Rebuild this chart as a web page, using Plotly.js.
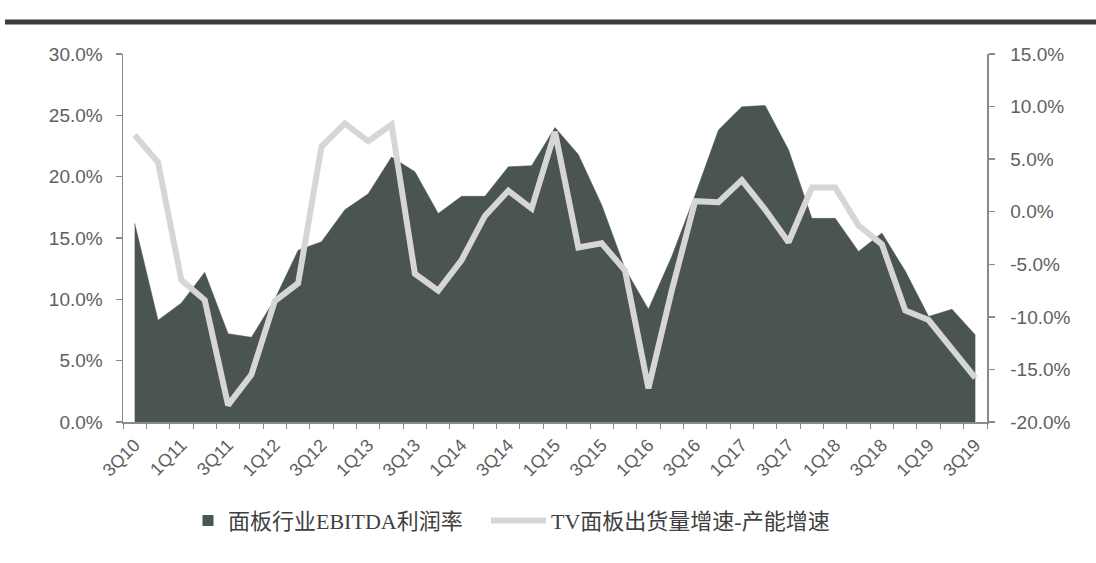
<!DOCTYPE html>
<html>
<head>
<meta charset="utf-8">
<script src="https://cdn.plot.ly/plotly-3.0.1.min.js"></script>
<style>
  html, body { margin: 0; padding: 0; background: #ffffff; }
  #chart { width: 1096px; height: 563px; }
</style>
</head>
<body>
<div id="chart"></div>
<script>
// Quarters 3Q10 .. 3Q19
const quarters = [
  '3Q10','4Q10','1Q11','2Q11','3Q11','4Q11','1Q12','2Q12','3Q12','4Q12',
  '1Q13','2Q13','3Q13','4Q13','1Q14','2Q14','3Q14','4Q14','1Q15','2Q15',
  '3Q15','4Q15','1Q16','2Q16','3Q16','4Q16','1Q17','2Q17','3Q17','4Q17',
  '1Q18','2Q18','3Q18','4Q18','1Q19','2Q19','3Q19'
];
// 面板行业EBITDA利润率 (%), left axis
const ebitdaMargin = [
  16.2, 8.3, 9.7, 12.2, 7.2, 6.9, 10.0, 14.0, 14.7, 17.3,
  18.6, 21.6, 20.4, 17.0, 18.4, 18.4, 20.8, 20.9, 24.0, 21.8,
  17.7, 12.5, 9.2, 13.5, 18.5, 23.8, 25.7, 25.8, 22.2, 16.6,
  16.6, 13.9, 15.4, 12.3, 8.6, 9.2, 7.1
];
// TV面板出货量增速-产能增速 (%), right axis
const tvGap = [
  7.3, 4.7, -6.5, -8.4, -18.4, -15.5, -8.5, -6.8, 6.2, 8.4,
  6.7, 8.3, -5.9, -7.5, -4.6, -0.4, 2.0, 0.3, 7.6, -3.4,
  -3.0, -5.6, -16.8, -7.5, 1.0, 0.9, 3.0, 0.2, -2.9, 2.3,
  2.3, -1.3, -3.1, -9.4, -10.3, -13.0, -15.8
];
// Tick labels
const tickLabels = quarters.filter((q, i) => i % 2 === 0);
const tickPositions = quarters.map((q, i) => i).filter(i => i % 2 === 0);
const xIdx = quarters.map((q, i) => i);
const leftTickVals = [0, 5, 10, 15, 20, 25, 30];
const leftTickText = ['0.0%', '5.0%', '10.0%', '15.0%', '20.0%', '25.0%', '30.0%'];
const rightTickVals = [-20, -15, -10, -5, 0, 5, 10, 15];
const rightTickText = ['-20.0%', '-15.0%', '-10.0%', '-5.0%', '0.0%', '5.0%', '10.0%', '15.0%'];

const seriesNames = ['面板行业EBITDA利润率', 'TV面板出货量增速-产能增速'];

const areaColor = '#4a5451';
const lineColor = '#d6d6d6';
const axisColor = '#8a8a8a';
const tickFontColor = '#606060';

const traces = [
  {
    x: xIdx, y: ebitdaMargin, type: 'scatter', mode: 'lines',
    fill: 'tozeroy', fillcolor: areaColor,
    line: { width: 0.5, color: areaColor },
    yaxis: 'y', showlegend: false, hoverinfo: 'skip'
  },
  {
    x: [null], y: [null], type: 'scatter', mode: 'markers',
    name: seriesNames[0],
    marker: { symbol: 'square', size: 11, color: areaColor },
    yaxis: 'y', showlegend: true, legend: 'legend'
  },
  {
    x: xIdx, y: tvGap, type: 'scatter', mode: 'lines',
    name: seriesNames[1],
    line: { width: 6, color: lineColor },
    yaxis: 'y2', showlegend: true, legend: 'legend2'
  }
];

const tickFont = { family: 'Liberation Sans, Arial, sans-serif', size: 19, color: tickFontColor };
const legendFont = { family: 'Liberation Serif, "Noto Sans CJK SC", serif', size: 22, color: '#404040' };

const layout = {
  width: 1096, height: 563,
  margin: { l: 123, r: 109, t: 54, b: 141 },
  paper_bgcolor: '#ffffff', plot_bgcolor: '#ffffff',
  showlegend: true,
  xaxis: {
    type: 'linear', range: [-0.5, 36.5],
    tickmode: 'array', tickvals: tickPositions, ticktext: tickLabels,
    tickangle: -45, ticks: '', ticklabelstandoff: 4,
    tickfont: { family: 'Liberation Sans, Arial, sans-serif', size: 18, color: tickFontColor },
    showline: true, linecolor: axisColor, linewidth: 1.5,
    showgrid: false, zeroline: false, fixedrange: true,
    minor: { tickmode: 'linear', tick0: 0.5, dtick: 1, ticks: 'outside', ticklen: 5, tickcolor: axisColor, tickwidth: 1, showgrid: false }
  },
  yaxis: {
    range: [0, 30], tickmode: 'array', tickvals: leftTickVals, ticktext: leftTickText,
    ticks: 'outside', ticklen: 6, tickcolor: axisColor, tickwidth: 1.5, ticklabelstandoff: 9,
    showline: true, linecolor: axisColor, linewidth: 1.5,
    showgrid: false, zeroline: false, tickfont: tickFont, fixedrange: true
  },
  yaxis2: {
    overlaying: 'y', side: 'right',
    range: [-20, 15], tickmode: 'array', tickvals: rightTickVals, ticktext: rightTickText,
    ticks: 'outside', ticklen: 6, tickcolor: axisColor, tickwidth: 1.5, ticklabelstandoff: 12,
    showline: true, linecolor: axisColor, linewidth: 1.5,
    showgrid: false, zeroline: false, tickfont: tickFont, fixedrange: true
  },
  legend: {
    orientation: 'h', x: (188 - 123) / 864, xanchor: 'left', y: -0.268, yanchor: 'middle',
    font: legendFont, itemwidth: 30, bgcolor: 'rgba(0,0,0,0)'
  },
  legend2: {
    orientation: 'h', x: (486 - 123) / 864, xanchor: 'left', y: -0.268, yanchor: 'middle',
    font: legendFont, itemwidth: 55, bgcolor: 'rgba(0,0,0,0)'
  },
  shapes: [
    { type: 'line', xref: 'paper', yref: 'paper',
      x0: (5 - 123) / 864, x1: (1096 - 123) / 864, y0: (422 - 22) / 368, y1: (422 - 22) / 368,
      line: { color: '#3c3c3c', width: 5 } }
  ]
};

Plotly.newPlot('chart', traces, layout, { displayModeBar: false, staticPlot: true });
</script>
</body>
</html>
